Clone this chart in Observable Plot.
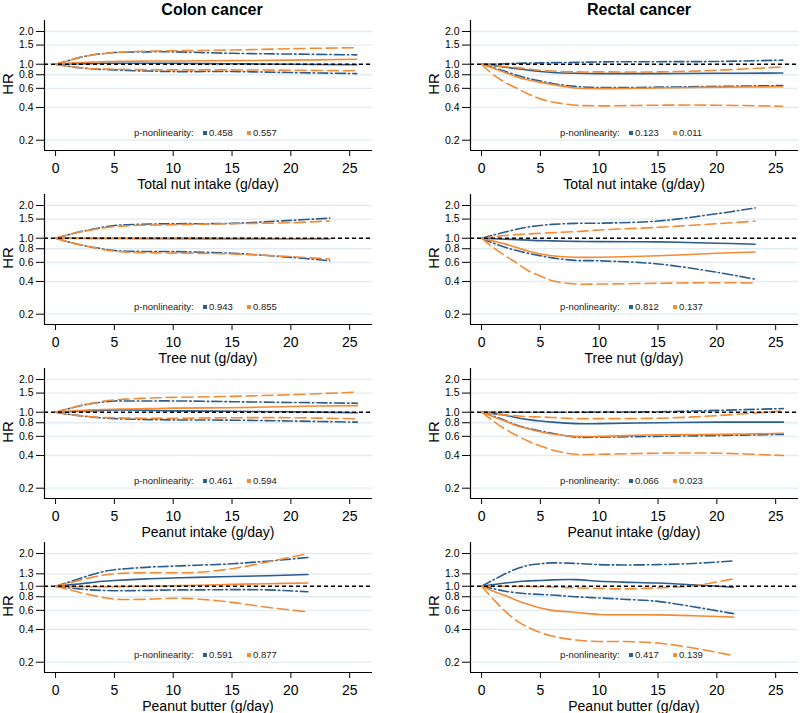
<!DOCTYPE html>
<html><head><meta charset="utf-8">
<script src="https://cdn.jsdelivr.net/npm/d3@7"></script>
<script src="https://cdn.jsdelivr.net/npm/@observablehq/plot@0.6"></script>
<style>
html,body{margin:0;padding:0;background:#fff;}
body{width:800px;height:713px;overflow:hidden;position:relative;font-family:"Liberation Sans",Arial,sans-serif;color:#000;}
.abs{position:absolute;white-space:nowrap;line-height:1;}
.ctr{transform:translate(-50%,-50%);}
.coltitle{font-weight:bold;font-size:16px;}
.xtitle{font-size:14px;}
.hr{font-size:15px;transform:translate(-50%,-50%) rotate(-90deg);}
.leg{font-size:9.5px;color:#222;transform:translateY(-50%);}
.sq{position:absolute;width:4px;height:4px;transform:translateY(-50%);}
</style>
</head><body>
<script>
// ---- axes / labels ----
const xTicks = [0, 5, 10, 15, 20, 25];
const yTicks = [0.2, 0.4, 0.6, 0.8, 1.0, 1.5, 2.0];
const yTicksPB = [0.2, 0.4, 0.6, 0.8, 1.0, 1.3, 2.0];
const outcomes = ["Colon cancer", "Rectal cancer"];
const exposures = ["Total nut intake (g/day)", "Tree nut (g/day)", "Peanut intake (g/day)", "Peanut butter (g/day)"];
const pBlueColon = ["0.458", "0.943", "0.461", "0.591"];
const pBlueRectal = ["0.123", "0.812", "0.066", "0.417"];
const pOrangeColon = ["0.557", "0.855", "0.594", "0.877"];
const pOrangeRectal = ["0.011", "0.137", "0.023", "0.139"];

// ---- Colon, total nut ----
const colonTotalX     = [0, 1, 2, 3, 4, 5, 6, 8, 10, 15, 20, 25.6];
const colonTotalBlHR  = [1, 1.005, 1.01, 1.015, 1.02, 1.02, 1.02, 1.02, 1.02, 1.01, 1.0, 0.99];
const colonTotalBlHi  = [1, 1.07, 1.15, 1.21, 1.25, 1.28, 1.29, 1.30, 1.30, 1.26, 1.24, 1.22];
const colonTotalBlLo  = [1, 0.96, 0.93, 0.91, 0.895, 0.887, 0.875, 0.865, 0.856, 0.856, 0.838, 0.82];
const colonTotalOrHR  = [1, 1.02, 1.035, 1.045, 1.055, 1.06, 1.065, 1.07, 1.07, 1.08, 1.09, 1.11];
const colonTotalOrHi  = [1, 1.07, 1.15, 1.21, 1.25, 1.28, 1.30, 1.32, 1.33, 1.35, 1.39, 1.42];
const colonTotalOrLo  = [1, 0.96, 0.93, 0.91, 0.905, 0.90, 0.895, 0.89, 0.887, 0.887, 0.88, 0.87];
// ---- Rectal, total nut ----
const rectalTotalX    = [0, 1, 2, 3, 4, 5, 6, 8, 10, 15, 20, 25.6];
const rectalTotalBlHR = [1, 0.975, 0.94, 0.91, 0.88, 0.856, 0.84, 0.826, 0.82, 0.82, 0.825, 0.83];
const rectalTotalBlHi = [1, 1.0, 1.01, 1.02, 1.025, 1.03, 1.035, 1.04, 1.05, 1.055, 1.06, 1.09];
const rectalTotalBlLo = [1, 0.93, 0.86, 0.79, 0.74, 0.70, 0.665, 0.625, 0.61, 0.615, 0.625, 0.636];
const rectalTotalOrHR = [1, 0.92, 0.84, 0.765, 0.715, 0.68, 0.65, 0.605, 0.597, 0.605, 0.615, 0.62];
const rectalTotalOrHi = [1, 0.975, 0.95, 0.93, 0.905, 0.88, 0.865, 0.85, 0.85, 0.85, 0.88, 0.945];
const rectalTotalOrLo = [1, 0.80, 0.68, 0.60, 0.53, 0.48, 0.45, 0.42, 0.414, 0.42, 0.42, 0.41];
// ---- Colon, tree nut ----
const colonTreeX      = [0, 1, 2, 3, 4, 5, 6, 8, 10, 15, 20, 23.3];
const colonTreeBlHR   = [1, 1, 1, 1, 1, 1, 1, 1, 1, 0.995, 0.99, 0.99];
const colonTreeBlHi   = [1, 1.07, 1.14, 1.2, 1.26, 1.31, 1.33, 1.35, 1.36, 1.37, 1.46, 1.53];
const colonTreeBlLo   = [1, 0.93, 0.874, 0.83, 0.80, 0.77, 0.76, 0.755, 0.753, 0.727, 0.667, 0.62];
const colonTreeOrHR   = [1, 1, 0.995, 0.99, 0.99, 0.99, 0.99, 0.985, 0.985, 0.98, 0.98, 0.98];
const colonTreeOrHi   = [1, 1.07, 1.14, 1.19, 1.24, 1.28, 1.30, 1.32, 1.33, 1.36, 1.39, 1.44];
const colonTreeOrLo   = [1, 0.93, 0.874, 0.83, 0.79, 0.76, 0.745, 0.735, 0.73, 0.717, 0.677, 0.645];
// ---- Rectal, tree nut ----
const rectalTreeX     = [0, 1, 2, 3, 4, 5, 6, 8, 10, 15, 20, 23.25];
const rectalTreeBlHR  = [1, 0.99, 0.98, 0.97, 0.96, 0.95, 0.945, 0.935, 0.93, 0.925, 0.90, 0.88];
const rectalTreeBlHi  = [1, 1.07, 1.14, 1.21, 1.27, 1.31, 1.34, 1.37, 1.375, 1.44, 1.68, 1.9];
const rectalTreeBlLo  = [1, 0.90, 0.826, 0.77, 0.725, 0.69, 0.66, 0.625, 0.62, 0.58, 0.486, 0.42];
const rectalTreeOrHR  = [1, 0.94, 0.887, 0.82, 0.76, 0.717, 0.69, 0.668, 0.668, 0.69, 0.727, 0.748];
const rectalTreeOrHi  = [1, 1.03, 1.06, 1.08, 1.095, 1.11, 1.125, 1.15, 1.19, 1.26, 1.36, 1.435];
const rectalTreeOrLo  = [1, 0.82, 0.69, 0.59, 0.50, 0.45, 0.407, 0.379, 0.379, 0.385, 0.39, 0.387];
// ---- Colon, peanut ----
const colonPeanutX    = [0, 1, 2, 3, 4, 5, 6, 8, 10, 15, 20, 25.65];
const colonPeanutBlHR = [1, 1.01, 1.02, 1.03, 1.04, 1.05, 1.05, 1.04, 1.03, 1.02, 1.01, 0.99];
const colonPeanutBlHi = [1, 1.07, 1.14, 1.2, 1.24, 1.27, 1.27, 1.27, 1.27, 1.25, 1.23, 1.21];
const colonPeanutBlLo = [1, 0.96, 0.93, 0.905, 0.885, 0.874, 0.865, 0.855, 0.85, 0.845, 0.83, 0.81];
const colonPeanutOrHR = [1, 1.02, 1.035, 1.05, 1.06, 1.066, 1.07, 1.08, 1.09, 1.10, 1.13, 1.15];
const colonPeanutOrHi = [1, 1.07, 1.14, 1.2, 1.26, 1.30, 1.32, 1.35, 1.37, 1.40, 1.45, 1.53];
const colonPeanutOrLo = [1, 0.96, 0.93, 0.91, 0.895, 0.89, 0.885, 0.88, 0.88, 0.89, 0.89, 0.87];
// ---- Rectal, peanut ----
const rectalPeanutX    = [0, 1, 2, 3, 4, 5, 6, 8, 10, 15, 20, 25.65];
const rectalPeanutBlHR = [1, 0.97, 0.94, 0.89, 0.855, 0.83, 0.81, 0.785, 0.785, 0.80, 0.81, 0.81];
const rectalPeanutBlHi = [1, 1, 1, 1, 1, 1, 1, 1, 1.005, 1.01, 1.04, 1.08];
const rectalPeanutBlLo = [1, 0.92, 0.84, 0.76, 0.71, 0.67, 0.64, 0.59, 0.59, 0.60, 0.61, 0.625];
const rectalPeanutOrHR = [1, 0.91, 0.83, 0.75, 0.70, 0.66, 0.63, 0.60, 0.60, 0.62, 0.625, 0.64];
const rectalPeanutOrHi = [1, 0.97, 0.945, 0.925, 0.91, 0.905, 0.895, 0.874, 0.874, 0.88, 0.93, 1.03];
const rectalPeanutOrLo = [1, 0.83, 0.70, 0.61, 0.54, 0.49, 0.45, 0.41, 0.41, 0.42, 0.42, 0.40];
// ---- Colon, peanut butter ----
const colonPBX    = [0, 1, 2, 3, 4, 5, 6, 8, 10, 12, 15, 18, 21.45];
const colonPBBlHR = [1, 1.025, 1.05, 1.08, 1.11, 1.13, 1.145, 1.17, 1.19, 1.205, 1.23, 1.25, 1.28];
const colonPBBlHi = [1, 1.08, 1.17, 1.27, 1.36, 1.42, 1.45, 1.50, 1.53, 1.56, 1.61, 1.70, 1.84];
const colonPBBlLo = [1, 0.97, 0.945, 0.925, 0.915, 0.91, 0.91, 0.915, 0.925, 0.925, 0.93, 0.925, 0.89];
const colonPBOrHR = [1, 0.995, 0.99, 0.99, 0.99, 0.99, 0.995, 1.0, 1.01, 1.02, 1.04, 1.055, 1.07];
const colonPBOrHi = [1, 1.06, 1.13, 1.2, 1.26, 1.30, 1.32, 1.33, 1.33, 1.34, 1.45, 1.67, 2.0];
const colonPBOrLo = [1, 0.94, 0.88, 0.83, 0.79, 0.76, 0.755, 0.76, 0.774, 0.765, 0.71, 0.64, 0.58];
// ---- Rectal, peanut butter ----
const rectalPBX    = [0, 1, 2, 3, 4, 5, 6, 8, 10, 12, 15, 18, 21.4];
const rectalPBBlHR = [1, 1.035, 1.07, 1.1, 1.12, 1.13, 1.145, 1.15, 1.11, 1.09, 1.07, 1.03, 0.98];
const rectalPBBlHi = [1, 1.14, 1.30, 1.45, 1.56, 1.61, 1.64, 1.62, 1.58, 1.57, 1.58, 1.62, 1.71];
const rectalPBBlLo = [1, 0.95, 0.90, 0.87, 0.85, 0.84, 0.83, 0.80, 0.78, 0.76, 0.725, 0.647, 0.56];
const rectalPBOrHR = [1, 0.90, 0.82, 0.74, 0.68, 0.63, 0.60, 0.574, 0.55, 0.547, 0.545, 0.535, 0.52];
const rectalPBOrHi = [1, 1.0, 1.0, 0.998, 0.995, 0.99, 0.985, 0.965, 0.955, 0.945, 0.965, 1.01, 1.17];
const rectalPBOrLo = [1, 0.76, 0.59, 0.48, 0.416, 0.375, 0.348, 0.32, 0.31, 0.31, 0.30, 0.27, 0.23];

const BLUE = "#2c5d8c";
const ORANGE = "#f58a34";

const panels = [
  [{x: colonTotalX, s: [colonTotalBlHR, colonTotalBlLo, colonTotalBlHi, colonTotalOrHR, colonTotalOrLo, colonTotalOrHi]},
   {x: rectalTotalX, s: [rectalTotalBlHR, rectalTotalBlLo, rectalTotalBlHi, rectalTotalOrHR, rectalTotalOrLo, rectalTotalOrHi]}],
  [{x: colonTreeX, s: [colonTreeBlHR, colonTreeBlLo, colonTreeBlHi, colonTreeOrHR, colonTreeOrLo, colonTreeOrHi]},
   {x: rectalTreeX, s: [rectalTreeBlHR, rectalTreeBlLo, rectalTreeBlHi, rectalTreeOrHR, rectalTreeOrLo, rectalTreeOrHi]}],
  [{x: colonPeanutX, s: [colonPeanutBlHR, colonPeanutBlLo, colonPeanutBlHi, colonPeanutOrHR, colonPeanutOrLo, colonPeanutOrHi]},
   {x: rectalPeanutX, s: [rectalPeanutBlHR, rectalPeanutBlLo, rectalPeanutBlHi, rectalPeanutOrHR, rectalPeanutOrLo, rectalPeanutOrHi]}],
  [{x: colonPBX, s: [colonPBBlHR, colonPBBlLo, colonPBBlHi, colonPBOrHR, colonPBOrLo, colonPBOrHi]},
   {x: rectalPBX, s: [rectalPBBlHR, rectalPBBlLo, rectalPBBlHi, rectalPBOrHR, rectalPBOrLo, rectalPBOrHi]}]
];
const seriesStyle = [
  {stroke: BLUE, dash: null},
  {stroke: BLUE, dash: "10,3,1.5,3"},
  {stroke: BLUE, dash: "10,3,1.5,3"},
  {stroke: ORANGE, dash: null},
  {stroke: ORANGE, dash: "11,5"},
  {stroke: ORANGE, dash: "11,5"}
];

const xDomain = [-0.94, 26.94];
const yDomain = [0.1608, 2.525];
const PITCH = 174;

function addDiv(cls, text, left, top, extra) {
  const d = document.createElement("div");
  d.className = "abs " + cls;
  d.textContent = text;
  d.style.left = left + "px";
  d.style.top = top + "px";
  if (extra) Object.assign(d.style, extra);
  document.body.appendChild(d);
  return d;
}

for (let r = 0; r < 4; r++) {
  for (let c = 0; c < 2; c++) {
    const p = panels[r][c];
    const ticks = r === 3 ? yTicksPB : yTicks;
    const lineMarks = p.s.map((ys, i) => {
      const data = p.x.map((xv, j) => ({x: xv, y: ys[j]}));
      const st = seriesStyle[i];
      const opts = {x: "x", y: "y", stroke: st.stroke, strokeWidth: 1.6, curve: "catmull-rom"};
      if (st.dash) opts.strokeDasharray = st.dash;
      return Plot.line(data, opts);
    });
    const svg = Plot.plot({
      width: 400, height: 182,
      marginLeft: c ? 70 : 44, marginRight: c ? 2 : 28,
      marginTop: 20, marginBottom: 32,
      style: {background: "transparent", overflow: "visible", fontFamily: "'Liberation Sans', Arial, sans-serif", color: "#000"},
      x: {domain: xDomain},
      y: {type: "log", domain: yDomain},
      marks: [
        Plot.ruleY(ticks, {stroke: "#e2ebef", strokeWidth: 1.3}),
        Plot.axisY({ticks: ticks, tickFormat: d => d.toFixed(1), tickSize: 8, tickPadding: 3, fontSize: 10.5, label: null}),
        Plot.axisX({ticks: xTicks, tickSize: 6, tickPadding: 7, fontSize: 14, label: null}),
        Plot.ruleX([xDomain[0]], {stroke: "#000", strokeWidth: 1.2}),
        Plot.ruleY([yDomain[0]], {stroke: "#000", strokeWidth: 1.2}),
        ...lineMarks,
        Plot.ruleY([1], {stroke: "#000", strokeDasharray: "4,3", strokeWidth: 1.5})
      ]
    });
    const wrap = document.createElement("div");
    wrap.className = "abs";
    wrap.style.left = (c * 400) + "px";
    wrap.style.top = (r * PITCH) + "px";
    wrap.appendChild(svg);
    document.body.appendChild(wrap);

    const off = c ? 426 : 0;
    const top = r * PITCH;
    // x title
    addDiv("ctr xtitle", exposures[r], c ? 634 : 208, top + (r === 3 ? 183.5 : 184));
    // HR label
    addDiv("hr", "HR", c ? 433 : 7, top + 84);
    // legend
    const ly = top + 133;
    addDiv("leg", "p-nonlinearity:", 134 + off, ly);
    const s1 = addDiv("sq", "", 203 + off, ly); s1.style.background = BLUE;
    addDiv("leg", (c ? pBlueRectal : pBlueColon)[r], 209 + off, ly);
    const s2 = addDiv("sq", "", 247 + off, ly); s2.style.background = ORANGE;
    addDiv("leg", (c ? pOrangeRectal : pOrangeColon)[r], 253 + off, ly);
  }
}
addDiv("ctr coltitle", outcomes[0], 212, 10);
addDiv("ctr coltitle", outcomes[1], 639, 10);
</script>
</body></html>
